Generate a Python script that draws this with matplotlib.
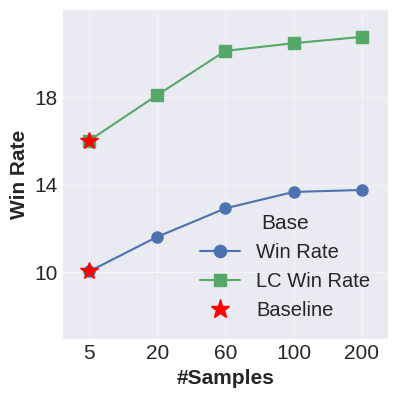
import numpy as np
import matplotlib
matplotlib.use("Agg")
import matplotlib.pyplot as plt

plt.style.use("seaborn-v0_8-darkgrid")

samples = ["5", "20", "60", "100", "200"]
win_rate = [10.05, 11.63, 12.93, 13.68, 13.77]
lc_win_rate = [16.03, 18.11, 20.13, 20.48, 20.77]
baseline = [10.05, 16.03]

x = np.arange(len(samples))

fig, ax = plt.subplots(figsize=(3.99, 3.99), dpi=100)
fig.subplots_adjust(left=0.157, right=0.973, bottom=0.15, top=0.975)

ax.plot(x, win_rate, marker="o", markersize=8, linewidth=1.5,
        color="#4c72b0", label="Win Rate")
ax.plot(x, lc_win_rate, marker="s", markersize=8, linewidth=1.5,
        color="#55a868", label="LC Win Rate")
ax.plot([x[0], x[0]], baseline, linestyle="none", marker="*", markersize=13,
        color="red", label="Baseline")

ax.set_xticks(x)
ax.set_xticklabels(samples)
ax.set_yticks([10, 14, 18])
ax.set_xlim(-0.39, 4.39)
ax.set_ylim(6.95, 22.0)
ax.tick_params(labelsize=15)
ax.grid(True, linestyle="--", linewidth=0.5)

ax.set_xlabel("#Samples", fontsize=15, fontweight="bold")
ax.set_ylabel("Win Rate", fontsize=15, fontweight="bold")

ax.legend(title="Base", fontsize=14.5, title_fontsize=15, loc="lower right",
          frameon=False, bbox_to_anchor=(1.0, 0.002), markerscale=1.1)

fig.savefig("out.png", dpi=100)
